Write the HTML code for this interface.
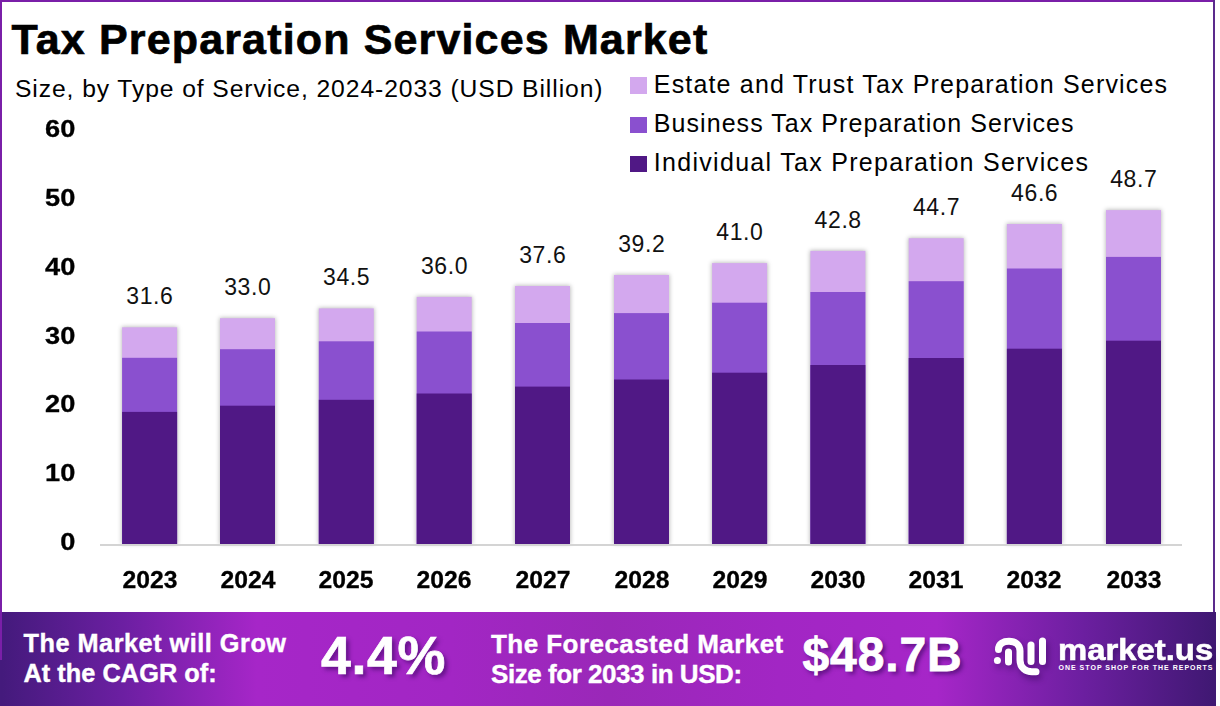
<!DOCTYPE html>
<html><head><meta charset="utf-8"><style>
html,body{margin:0;padding:0;}
body{width:1220px;height:706px;position:relative;overflow:hidden;background:#fff;font-family:"Liberation Sans",sans-serif;}
.t{position:absolute;white-space:nowrap;}
.bar{position:absolute;width:55px;box-shadow:0 0 4px rgba(0,0,0,0.25);}
.seg{position:absolute;left:0;width:100%;}
</style></head><body>
<div style="position:absolute;left:0;top:0;width:1215px;height:2px;background:#7a1fa8"></div>
<div style="position:absolute;left:0;top:0;width:2px;height:660px;background:#7a1fa8"></div><div style="position:absolute;left:0;top:660px;width:2px;height:46px;background:#441a7c"></div>
<div style="position:absolute;left:1213px;top:0;width:2px;height:612px;background:#5b2a8c"></div>
<div class="t" style="left:11.5px;top:17.9px;font-size:43px;line-height:43px;font-weight:bold;letter-spacing:1.15px;color:#000;-webkit-text-stroke:0.7px #000;">Tax Preparation Services Market</div>
<div class="t" style="left:15.0px;top:77.1px;font-size:24.7px;line-height:24.7px;font-weight:normal;letter-spacing:0.9px;color:#000;">Size, by Type of Service, 2024-2033 (USD Billion)</div>
<div style="position:absolute;left:630px;top:77.2px;width:17px;height:16.5px;background:#d3a8ee"></div>
<div class="t" style="left:653.8px;top:72.0px;font-size:25px;line-height:25px;font-weight:normal;letter-spacing:1.17px;color:#000;">Estate and Trust Tax Preparation Services</div>
<div style="position:absolute;left:630px;top:116.5px;width:17px;height:16.5px;background:#8a50cf"></div>
<div class="t" style="left:653.8px;top:111.0px;font-size:25px;line-height:25px;font-weight:normal;letter-spacing:1.06px;color:#000;">Business Tax Preparation Services</div>
<div style="position:absolute;left:630px;top:155.8px;width:17px;height:16.5px;background:#501885"></div>
<div class="t" style="left:653.8px;top:150.0px;font-size:25px;line-height:25px;font-weight:normal;letter-spacing:1.3px;color:#000;">Individual Tax Preparation Services</div>
<div class="t" style="left:0;width:75.3px;text-align:right;top:117.2px;font-size:24.5px;line-height:24.5px;font-weight:bold;-webkit-text-stroke:0.3px #000;transform:scaleX(1.11);transform-origin:100% 0">60</div>
<div class="t" style="left:0;width:75.3px;text-align:right;top:186.0px;font-size:24.5px;line-height:24.5px;font-weight:bold;-webkit-text-stroke:0.3px #000;transform:scaleX(1.11);transform-origin:100% 0">50</div>
<div class="t" style="left:0;width:75.3px;text-align:right;top:254.8px;font-size:24.5px;line-height:24.5px;font-weight:bold;-webkit-text-stroke:0.3px #000;transform:scaleX(1.11);transform-origin:100% 0">40</div>
<div class="t" style="left:0;width:75.3px;text-align:right;top:323.6px;font-size:24.5px;line-height:24.5px;font-weight:bold;-webkit-text-stroke:0.3px #000;transform:scaleX(1.11);transform-origin:100% 0">30</div>
<div class="t" style="left:0;width:75.3px;text-align:right;top:392.4px;font-size:24.5px;line-height:24.5px;font-weight:bold;-webkit-text-stroke:0.3px #000;transform:scaleX(1.11);transform-origin:100% 0">20</div>
<div class="t" style="left:0;width:75.3px;text-align:right;top:461.2px;font-size:24.5px;line-height:24.5px;font-weight:bold;-webkit-text-stroke:0.3px #000;transform:scaleX(1.11);transform-origin:100% 0">10</div>
<div class="t" style="left:0;width:75.3px;text-align:right;top:530.0px;font-size:24.5px;line-height:24.5px;font-weight:bold;-webkit-text-stroke:0.3px #000;transform:scaleX(1.11);transform-origin:100% 0">0</div>
<svg style="position:absolute;left:0;top:0" width="1220" height="706"><defs><filter id="sh" x="-20%" y="-5%" width="140%" height="110%"><feGaussianBlur stdDeviation="2"/></filter></defs><rect x="121.6" y="326.8" width="56" height="217.2" fill="rgba(0,0,0,0.28)" filter="url(#sh)"/><rect x="219.5" y="317.7" width="56" height="226.3" fill="rgba(0,0,0,0.28)" filter="url(#sh)"/><rect x="318.3" y="307.9" width="56" height="236.1" fill="rgba(0,0,0,0.28)" filter="url(#sh)"/><rect x="416.2" y="296.4" width="56" height="247.6" fill="rgba(0,0,0,0.28)" filter="url(#sh)"/><rect x="514.5" y="285.5" width="56" height="258.5" fill="rgba(0,0,0,0.28)" filter="url(#sh)"/><rect x="613.5" y="274.5" width="56" height="269.5" fill="rgba(0,0,0,0.28)" filter="url(#sh)"/><rect x="711.6" y="262.6" width="56" height="281.4" fill="rgba(0,0,0,0.28)" filter="url(#sh)"/><rect x="809.9" y="250.4" width="56" height="293.6" fill="rgba(0,0,0,0.28)" filter="url(#sh)"/><rect x="908.2" y="237.7" width="56" height="306.3" fill="rgba(0,0,0,0.28)" filter="url(#sh)"/><rect x="1006.4" y="223.5" width="56" height="320.5" fill="rgba(0,0,0,0.28)" filter="url(#sh)"/><rect x="1105.5" y="209.6" width="56" height="334.4" fill="rgba(0,0,0,0.28)" filter="url(#sh)"/><rect x="122.1" y="327.3" width="55" height="216.7" fill="#d3a8ee"/><rect x="122.1" y="357.8" width="55" height="186.2" fill="#8a50cf"/><rect x="122.1" y="411.9" width="55" height="132.1" fill="#501885"/><rect x="220.0" y="318.2" width="55" height="225.8" fill="#d3a8ee"/><rect x="220.0" y="349.2" width="55" height="194.8" fill="#8a50cf"/><rect x="220.0" y="405.7" width="55" height="138.3" fill="#501885"/><rect x="318.8" y="308.4" width="55" height="235.6" fill="#d3a8ee"/><rect x="318.8" y="341.3" width="55" height="202.7" fill="#8a50cf"/><rect x="318.8" y="399.8" width="55" height="144.2" fill="#501885"/><rect x="416.7" y="296.9" width="55" height="247.1" fill="#d3a8ee"/><rect x="416.7" y="331.5" width="55" height="212.5" fill="#8a50cf"/><rect x="416.7" y="393.5" width="55" height="150.5" fill="#501885"/><rect x="515.0" y="286.0" width="55" height="258.0" fill="#d3a8ee"/><rect x="515.0" y="323.0" width="55" height="221.0" fill="#8a50cf"/><rect x="515.0" y="386.6" width="55" height="157.4" fill="#501885"/><rect x="614.0" y="275.0" width="55" height="269.0" fill="#d3a8ee"/><rect x="614.0" y="313.1" width="55" height="230.9" fill="#8a50cf"/><rect x="614.0" y="379.5" width="55" height="164.5" fill="#501885"/><rect x="712.1" y="263.1" width="55" height="280.9" fill="#d3a8ee"/><rect x="712.1" y="302.7" width="55" height="241.3" fill="#8a50cf"/><rect x="712.1" y="372.7" width="55" height="171.3" fill="#501885"/><rect x="810.4" y="250.9" width="55" height="293.1" fill="#d3a8ee"/><rect x="810.4" y="292.0" width="55" height="252.0" fill="#8a50cf"/><rect x="810.4" y="365.0" width="55" height="179.0" fill="#501885"/><rect x="908.7" y="238.2" width="55" height="305.8" fill="#d3a8ee"/><rect x="908.7" y="281.2" width="55" height="262.8" fill="#8a50cf"/><rect x="908.7" y="358.0" width="55" height="186.0" fill="#501885"/><rect x="1006.9" y="224.0" width="55" height="320.0" fill="#d3a8ee"/><rect x="1006.9" y="268.5" width="55" height="275.5" fill="#8a50cf"/><rect x="1006.9" y="348.7" width="55" height="195.3" fill="#501885"/><rect x="1106.0" y="210.1" width="55" height="333.9" fill="#d3a8ee"/><rect x="1106.0" y="256.9" width="55" height="287.1" fill="#8a50cf"/><rect x="1106.0" y="340.7" width="55" height="203.3" fill="#501885"/></svg>
<div style="position:absolute;left:100px;top:544px;width:1082px;height:2px;background:#d4d4d4"></div>
<div class="t" style="left:49.9px;width:200px;text-align:center;top:285.2px;font-size:23px;line-height:23px;font-weight:normal;letter-spacing:0.6px;color:#111;">31.6</div>
<div class="t" style="left:49.6px;width:200px;text-align:center;top:569.3px;font-size:23.3px;line-height:23.3px;font-weight:bold;letter-spacing:0px;color:#000;transform:scaleX(1.06);transform-origin:50% 0;-webkit-text-stroke:0.3px #000;">2023</div>
<div class="t" style="left:147.8px;width:200px;text-align:center;top:276.1px;font-size:23px;line-height:23px;font-weight:normal;letter-spacing:0.6px;color:#111;">33.0</div>
<div class="t" style="left:147.5px;width:200px;text-align:center;top:569.3px;font-size:23.3px;line-height:23.3px;font-weight:bold;letter-spacing:0px;color:#000;transform:scaleX(1.06);transform-origin:50% 0;-webkit-text-stroke:0.3px #000;">2024</div>
<div class="t" style="left:246.6px;width:200px;text-align:center;top:266.3px;font-size:23px;line-height:23px;font-weight:normal;letter-spacing:0.6px;color:#111;">34.5</div>
<div class="t" style="left:246.3px;width:200px;text-align:center;top:569.3px;font-size:23.3px;line-height:23.3px;font-weight:bold;letter-spacing:0px;color:#000;transform:scaleX(1.06);transform-origin:50% 0;-webkit-text-stroke:0.3px #000;">2025</div>
<div class="t" style="left:344.5px;width:200px;text-align:center;top:254.8px;font-size:23px;line-height:23px;font-weight:normal;letter-spacing:0.6px;color:#111;">36.0</div>
<div class="t" style="left:344.2px;width:200px;text-align:center;top:569.3px;font-size:23.3px;line-height:23.3px;font-weight:bold;letter-spacing:0px;color:#000;transform:scaleX(1.06);transform-origin:50% 0;-webkit-text-stroke:0.3px #000;">2026</div>
<div class="t" style="left:442.8px;width:200px;text-align:center;top:243.9px;font-size:23px;line-height:23px;font-weight:normal;letter-spacing:0.6px;color:#111;">37.6</div>
<div class="t" style="left:442.5px;width:200px;text-align:center;top:569.3px;font-size:23.3px;line-height:23.3px;font-weight:bold;letter-spacing:0px;color:#000;transform:scaleX(1.06);transform-origin:50% 0;-webkit-text-stroke:0.3px #000;">2027</div>
<div class="t" style="left:541.8px;width:200px;text-align:center;top:232.9px;font-size:23px;line-height:23px;font-weight:normal;letter-spacing:0.6px;color:#111;">39.2</div>
<div class="t" style="left:541.5px;width:200px;text-align:center;top:569.3px;font-size:23.3px;line-height:23.3px;font-weight:bold;letter-spacing:0px;color:#000;transform:scaleX(1.06);transform-origin:50% 0;-webkit-text-stroke:0.3px #000;">2028</div>
<div class="t" style="left:639.9px;width:200px;text-align:center;top:221.0px;font-size:23px;line-height:23px;font-weight:normal;letter-spacing:0.6px;color:#111;">41.0</div>
<div class="t" style="left:639.6px;width:200px;text-align:center;top:569.3px;font-size:23.3px;line-height:23.3px;font-weight:bold;letter-spacing:0px;color:#000;transform:scaleX(1.06);transform-origin:50% 0;-webkit-text-stroke:0.3px #000;">2029</div>
<div class="t" style="left:738.2px;width:200px;text-align:center;top:208.8px;font-size:23px;line-height:23px;font-weight:normal;letter-spacing:0.6px;color:#111;">42.8</div>
<div class="t" style="left:737.9px;width:200px;text-align:center;top:569.3px;font-size:23.3px;line-height:23.3px;font-weight:bold;letter-spacing:0px;color:#000;transform:scaleX(1.06);transform-origin:50% 0;-webkit-text-stroke:0.3px #000;">2030</div>
<div class="t" style="left:836.5px;width:200px;text-align:center;top:196.1px;font-size:23px;line-height:23px;font-weight:normal;letter-spacing:0.6px;color:#111;">44.7</div>
<div class="t" style="left:836.2px;width:200px;text-align:center;top:569.3px;font-size:23.3px;line-height:23.3px;font-weight:bold;letter-spacing:0px;color:#000;transform:scaleX(1.06);transform-origin:50% 0;-webkit-text-stroke:0.3px #000;">2031</div>
<div class="t" style="left:934.7px;width:200px;text-align:center;top:181.9px;font-size:23px;line-height:23px;font-weight:normal;letter-spacing:0.6px;color:#111;">46.6</div>
<div class="t" style="left:934.4px;width:200px;text-align:center;top:569.3px;font-size:23.3px;line-height:23.3px;font-weight:bold;letter-spacing:0px;color:#000;transform:scaleX(1.06);transform-origin:50% 0;-webkit-text-stroke:0.3px #000;">2032</div>
<div class="t" style="left:1033.8px;width:200px;text-align:center;top:168.0px;font-size:23px;line-height:23px;font-weight:normal;letter-spacing:0.6px;color:#111;">48.7</div>
<div class="t" style="left:1033.5px;width:200px;text-align:center;top:569.3px;font-size:23.3px;line-height:23.3px;font-weight:bold;letter-spacing:0px;color:#000;transform:scaleX(1.06);transform-origin:50% 0;-webkit-text-stroke:0.3px #000;">2033</div>
<div style="position:absolute;left:2px;top:612px;width:1214px;height:94px;background:linear-gradient(90deg,#441a7c 0%,#6c1fa2 10%,#a626c8 21%,#a226c4 37%,#9a28b8 50%,#a226c4 64%,#a626c8 77%,#6c1fa0 89%,#3f1872 100%)"></div>
<div class="t" style="left:23.5px;top:631.0px;font-size:25.3px;line-height:25.3px;font-weight:bold;letter-spacing:0.5px;color:#fff;-webkit-text-stroke:0.4px #fff;">The Market will Grow</div>
<div class="t" style="left:23.5px;top:660.9px;font-size:25.3px;line-height:25.3px;font-weight:bold;letter-spacing:0.05px;color:#fff;-webkit-text-stroke:0.4px #fff;">At the CAGR of:</div>
<div class="t" style="left:321.0px;top:628.8px;font-size:53.8px;line-height:53.8px;font-weight:bold;letter-spacing:0.6px;color:#fff;text-shadow:3px 3px 4px rgba(40,0,80,0.55);-webkit-text-stroke:0.7px #fff;">4.4%</div>
<div class="t" style="left:491.0px;top:630.8px;font-size:26px;line-height:26px;font-weight:bold;letter-spacing:0.45px;color:#fff;-webkit-text-stroke:0.4px #fff;">The Forecasted Market</div>
<div class="t" style="left:491.0px;top:661.0px;font-size:26px;line-height:26px;font-weight:bold;letter-spacing:-0.45px;color:#fff;-webkit-text-stroke:0.4px #fff;">Size for 2033 in USD:</div>
<div class="t" style="left:802.5px;top:631.4px;font-size:48px;line-height:48px;font-weight:bold;letter-spacing:0.9px;color:#fff;text-shadow:3px 3px 4px rgba(40,0,80,0.55);-webkit-text-stroke:0.8px #fff;">$48.7B</div>
<svg style="position:absolute;left:0;top:0;filter:drop-shadow(2px 4px 3px rgba(35,0,70,0.45))" width="1220" height="706">
<g id="logo" fill="none" stroke="#fff" stroke-linecap="round" stroke-width="7">
<path d="M998.5 649.5 C998.5 643.5 1003.5 641.3 1009 641.3 C1015 641.3 1020 644.5 1020 651 L1020 660 C1020 668 1026 671.8 1032 671.8 L1036 671.8"/>
<line x1="1008.5" y1="652" x2="1008.5" y2="662"/>
<line x1="1031" y1="645" x2="1031" y2="661.5"/>
<line x1="1042.5" y1="641" x2="1042.5" y2="661.5"/>
</g>
<circle cx="997.4" cy="660.5" r="3.5" fill="#fff"/>
</svg>
<div class="t" style="left:1057.8px;top:635.1px;font-size:30px;line-height:30px;font-weight:bold;letter-spacing:0px;color:#fff;transform:scaleX(1.095);transform-origin:0 0;-webkit-text-stroke:0.6px #fff;text-shadow:2px 4px 4px rgba(35,0,70,0.4);">market.us</div>
<div class="t" style="left:1058.5px;top:664.4px;font-size:7px;line-height:7px;font-weight:bold;letter-spacing:1.0px;color:#fff;">ONE STOP SHOP FOR THE REPORTS</div>
</body></html>
